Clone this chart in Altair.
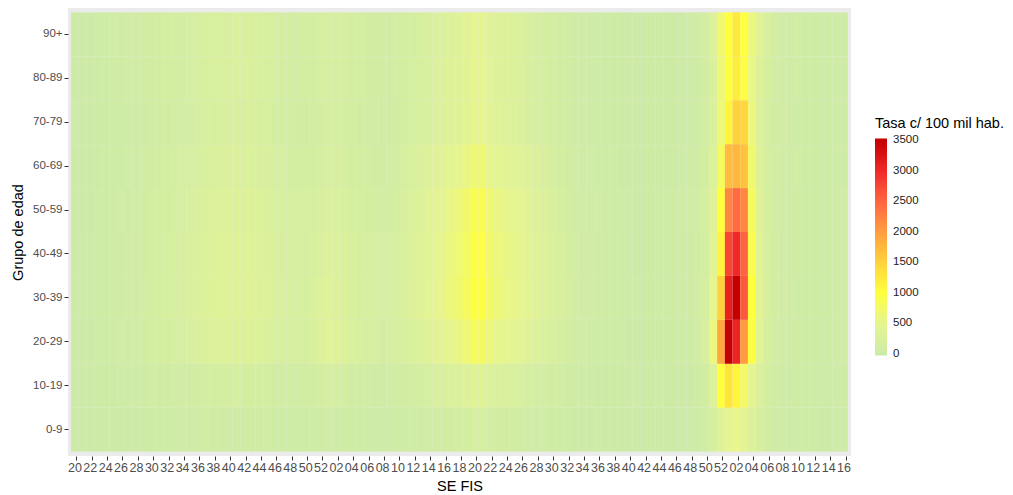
import altair as alt
import pandas as pd

grupos = ["0-9", "10-19", "20-29", "30-39", "40-49", "50-59", "60-69", "70-79", "80-89", "90+"]

semanas_2020 = list(range(20, 53))
semanas_2021 = list(range(1, 53))
semanas_2022 = list(range(1, 17))

sem_keys = ([f"2020-{w:02d}" for w in semanas_2020]
            + [f"2021-{w:02d}" for w in semanas_2021]
            + [f"2022-{w:02d}" for w in semanas_2022])

# Tasa c/ 100 mil hab. por semana: 2020 SE20-52, 2021 SE1-52, 2022 SE1-16
t0_9_2020 = [3, 4, 5, 5, 7, 8, 11, 14, 17, 20, 23, 26, 29, 33, 38, 42, 47, 51, 56, 60, 63, 65, 63, 60, 56, 50, 44, 38, 33, 30, 30, 35, 42]
t0_9_2021 = [50, 48, 42, 36, 32, 29, 27, 27, 29, 32,
             43, 51, 61, 73, 85, 95, 105, 119, 136, 167, 162, 128, 109, 99, 92, 85, 73, 61, 51, 41,
             34, 26, 20, 16, 13, 10, 8, 6, 6, 5, 4, 4, 4, 4, 5, 6, 7, 10, 16, 50, 150, 350]
t0_9_2022 = [500, 550, 450, 300, 180, 100, 65, 48, 36, 30, 25, 22, 20, 22, 25, 28]

t10_19_2020 = [7, 8, 11, 13, 15, 20, 25, 32, 39, 46, 53, 60, 67, 77, 88, 98, 109, 119, 130, 140, 147, 151, 147, 140, 130, 116, 102, 88, 77, 70, 75, 95, 130]
t10_19_2021 = [160, 150, 120, 95, 80, 70, 66, 66, 70, 80,
               95, 114, 137, 163, 190, 213, 236, 266, 304, 372, 361, 285, 243, 220, 205, 190, 163, 137, 114, 91,
               77, 59, 45, 36, 29, 23, 18, 14, 13, 11, 10, 9, 9, 10, 11, 13, 16, 23, 36, 100, 300, 1000]
t10_19_2022 = [1300, 1100, 750, 450, 250, 130, 80, 60, 45, 38, 32, 28, 25, 28, 32, 36]

t20_29_2020 = [15, 18, 23, 27, 33, 42, 53, 68, 83, 98, 113, 128, 143, 165, 188, 210, 233, 255, 278, 300, 315, 323, 315, 300, 278, 248, 218, 188, 165, 150, 160, 220, 300]
t20_29_2021 = [380, 360, 290, 230, 190, 165, 150, 145, 150, 165,
               205, 246, 295, 353, 410, 459, 508, 574, 656, 804, 779, 615, 525, 476, 443, 410, 353, 295, 246, 197,
               162, 124, 95, 76, 61, 48, 38, 30, 27, 23, 21, 19, 19, 21, 23, 27, 34, 48, 76, 200, 600, 1900]
t20_29_2022 = [3500, 3050, 2000, 950, 380, 180, 115, 85, 65, 55, 45, 40, 34, 38, 44, 50]

t30_39_2020 = [17, 20, 26, 31, 37, 48, 60, 77, 94, 111, 128, 145, 162, 187, 213, 238, 264, 289, 315, 340, 357, 366, 357, 340, 315, 281, 247, 213, 187, 170, 175, 230, 290]
t30_39_2021 = [340, 320, 270, 220, 180, 162, 153, 153, 162, 179,
               250, 300, 360, 430, 500, 560, 620, 700, 800, 980, 950, 750, 640, 580, 540, 500, 430, 360, 300, 240,
               196, 150, 115, 92, 74, 58, 46, 37, 32, 28, 25, 23, 23, 25, 28, 32, 41, 58, 92, 150, 500, 1500]
t30_39_2022 = [3100, 3500, 2600, 1000, 400, 200, 130, 95, 70, 58, 48, 42, 36, 40, 46, 52]

t40_49_2020 = [16, 19, 25, 30, 36, 46, 58, 74, 90, 106, 122, 139, 155, 180, 205, 230, 255, 280, 305, 330, 347, 356, 347, 330, 305, 272, 240, 207, 182, 165, 165, 200, 245]
t40_49_2021 = [290, 280, 245, 210, 180, 163, 155, 155, 163, 180,
               245, 294, 353, 421, 490, 549, 608, 686, 784, 960, 931, 735, 627, 568, 529, 490, 421, 353, 294, 235,
               194, 148, 114, 91, 73, 57, 45, 36, 31, 27, 24, 22, 22, 24, 27, 31, 40, 56, 90, 140, 400, 1100]
t40_49_2022 = [2750, 3000, 2500, 900, 380, 190, 125, 90, 68, 56, 46, 40, 35, 39, 45, 51]

t50_59_2020 = [15, 18, 23, 27, 33, 42, 53, 68, 83, 98, 113, 128, 143, 165, 188, 210, 233, 255, 278, 300, 315, 323, 315, 300, 278, 248, 218, 188, 165, 150, 150, 173, 210]
t50_59_2021 = [248, 240, 210, 180, 158, 143, 135, 135, 143, 158,
               225, 270, 324, 387, 450, 504, 558, 630, 720, 882, 855, 675, 576, 522, 486, 450, 387, 324, 270, 216,
               179, 137, 105, 84, 67, 53, 42, 34, 29, 25, 23, 21, 21, 23, 25, 29, 38, 53, 84, 150, 350, 1000]
t50_59_2022 = [2200, 2450, 2200, 800, 350, 180, 115, 85, 65, 55, 45, 40, 34, 38, 44, 50]

t60_69_2020 = [12, 14, 18, 22, 26, 34, 42, 54, 66, 78, 90, 102, 114, 132, 150, 168, 186, 204, 222, 240, 252, 258, 252, 240, 222, 198, 174, 150, 132, 120, 120, 138, 168]
t60_69_2021 = [198, 192, 168, 144, 126, 114, 108, 108, 114, 126,
               175, 210, 252, 301, 350, 392, 434, 490, 560, 686, 665, 525, 448, 406, 378, 350, 301, 252, 210, 168,
               136, 104, 80, 64, 51, 40, 32, 26, 22, 19, 18, 16, 16, 18, 19, 22, 29, 40, 64, 130, 300, 800]
t60_69_2022 = [1700, 1750, 1650, 700, 320, 170, 110, 80, 60, 50, 42, 36, 32, 36, 40, 46]

t70_79_2020 = [10, 12, 15, 18, 22, 28, 35, 45, 55, 65, 75, 85, 95, 110, 125, 140, 155, 170, 185, 200, 210, 215, 210, 200, 185, 165, 145, 125, 110, 100, 100, 115, 140]
t70_79_2021 = [165, 160, 140, 120, 105, 95, 90, 90, 95, 105,
               130, 156, 187, 224, 260, 291, 322, 364, 416, 510, 494, 390, 333, 302, 281, 260, 224, 187, 156, 125,
               102, 78, 60, 48, 38, 30, 24, 19, 17, 14, 13, 12, 12, 13, 14, 17, 22, 30, 48, 110, 250, 650]
t70_79_2022 = [1100, 1500, 1450, 600, 300, 170, 105, 78, 58, 48, 40, 34, 30, 34, 38, 44]

t80_89_2020 = [11, 14, 18, 24, 32, 45, 60, 75, 85, 90, 95, 100, 110, 125, 140, 155, 170, 187, 204, 220, 231, 237, 231, 220, 204, 182, 160, 138, 121, 110, 110, 127, 154]
t80_89_2021 = [182, 176, 154, 132, 116, 105, 99, 99, 105, 116,
               125, 150, 180, 215, 250, 280, 310, 350, 400, 490, 475, 375, 320, 290, 270, 250, 215, 180, 150, 120,
               100, 76, 58, 46, 37, 29, 23, 19, 16, 14, 13, 12, 12, 13, 14, 17, 22, 30, 48, 100, 250, 650]
t80_89_2022 = [1000, 1200, 950, 550, 300, 180, 110, 80, 60, 50, 42, 36, 32, 36, 40, 46]

t90_2020 = [12, 15, 20, 28, 38, 52, 68, 82, 92, 98, 102, 108, 116, 130, 144, 158, 172, 188, 204, 218, 228, 234, 228, 218, 204, 184, 162, 140, 124, 114, 114, 130, 158]
t90_2021 = [185, 178, 156, 134, 118, 106, 100, 100, 106, 118,
            123, 147, 176, 211, 245, 274, 304, 343, 392, 480, 466, 368, 314, 284, 265, 245, 211, 176, 147, 118,
            98, 74, 56, 45, 36, 28, 22, 18, 16, 14, 13, 12, 12, 13, 14, 17, 22, 30, 50, 110, 300, 700]
t90_2022 = [1000, 1250, 1000, 600, 350, 200, 120, 85, 62, 52, 44, 38, 34, 38, 42, 48]

series = {
    "0-9": (t0_9_2020, t0_9_2021, t0_9_2022),
    "10-19": (t10_19_2020, t10_19_2021, t10_19_2022),
    "20-29": (t20_29_2020, t20_29_2021, t20_29_2022),
    "30-39": (t30_39_2020, t30_39_2021, t30_39_2022),
    "40-49": (t40_49_2020, t40_49_2021, t40_49_2022),
    "50-59": (t50_59_2020, t50_59_2021, t50_59_2022),
    "60-69": (t60_69_2020, t60_69_2021, t60_69_2022),
    "70-79": (t70_79_2020, t70_79_2021, t70_79_2022),
    "80-89": (t80_89_2020, t80_89_2021, t80_89_2022),
    "90+": (t90_2020, t90_2021, t90_2022),
}

legend_values = [0, 500, 1000, 1500, 2000, 2500, 3000, 3500]
color_stops = ["#CDEBA7", "#E6F590", "#FFFF3C", "#FFD23C", "#FF9C40", "#FF6440", "#F02828", "#C40000"]
# scale runs a hair beyond 0 and 3500 so the end labels sit centred on the bar ends
scale_domain = [-30] + legend_values + [3530]
scale_range = [color_stops[0]] + color_stops + [color_stops[-1]]

rows = []
for g in grupos:
    a, b, c = series[g]
    serie = a + b + c
    assert len(serie) == len(sem_keys), (g, len(a), len(b), len(c))
    for k, v in zip(sem_keys, serie):
        rows.append({"sem": k, "grupo": g, "tasa": v})
df = pd.DataFrame(rows)

FONT = "Liberation Sans"

chart = alt.Chart(df).mark_rect().encode(
    x=alt.X("sem:O", sort=sem_keys,
            scale=alt.Scale(paddingInner=0, paddingOuter=0.4),
            axis=alt.Axis(values=sem_keys[::2], labelExpr="slice(datum.value, 5)",
                          title="SE FIS", labelAngle=0, labelOverlap=False, labelFlush=False,
                          bandPosition=0.75, grid=False,
                          domain=False, tickColor="#333333", tickSize=4, labelPadding=1,
                          labelFont=FONT, labelFontSize=12.5, labelColor="#4D4D4D",
                          titleFont=FONT, titleFontSize=14.5, titleFontWeight="normal",
                          titleColor="black", titlePadding=6)),
    y=alt.Y("grupo:O", sort=grupos[::-1],
            scale=alt.Scale(paddingInner=0, paddingOuter=0.1),
            axis=alt.Axis(title="Grupo de edad", grid=False, domain=False,
                          tickColor="#333333", tickSize=4, labelPadding=2,
                          labelFont=FONT, labelFontSize=11.5, labelColor="#4D4D4D",
                          titleFont=FONT, titleFontSize=14.5, titleFontWeight="normal",
                          titleColor="black", titlePadding=7)),
    color=alt.Color("tasa:Q",
                    scale=alt.Scale(domain=scale_domain, range=scale_range,
                                    interpolate="rgb", clamp=True),
                    legend=alt.Legend(title="Tasa c/ 100 mil hab.", orient="none",
                                      legendX=807, legendY=109, direction="vertical",
                                      gradientLength=217, gradientThickness=12,
                                      gradientStrokeWidth=0, values=legend_values,
                                      format="d",
                                      labelOverlap=False, labelOffset=6,
                                      labelFont=FONT, labelFontSize=11.5, labelColor="#222222",
                                      titleFont=FONT, titleFontSize=14.5, titleFontWeight="normal",
                                      titleColor="black", titlePadding=7)),
).properties(
    width=783, height=448,
    padding={"left": 68, "top": 8, "right": 162, "bottom": 39},
    autosize="none",
).configure_view(
    fill="#EBEBEB", stroke=None
)

chart.save("out.html", embed_options={"renderer": "svg", "actions": False})
